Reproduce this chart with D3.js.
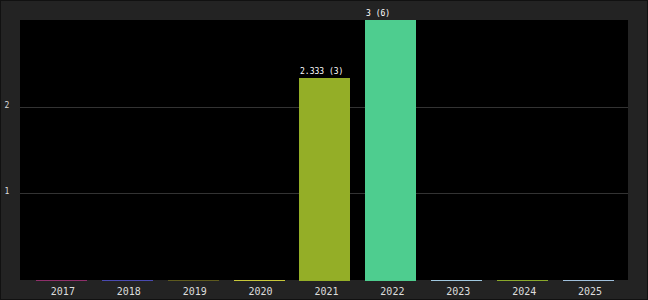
<!DOCTYPE html>
<html>
<head>
<meta charset="utf-8">
<script src="https://cdn.jsdelivr.net/npm/d3@7"></script>
<style>
  html, body { margin: 0; padding: 0; background: #222; }
  svg { display: block; }
</style>
</head>
<body>
<svg id="chart" width="648" height="300"></svg>
<script>
const years = ["2017", "2018", "2019", "2020", "2021", "2022", "2023", "2024", "2025"];
const values = [0, 0, 0, 0, 2.333, 3, 0, 0, 0];
const counts = [0, 0, 0, 0, 3, 6, 0, 0, 0];
const barColors = ["#8f2f6a", "#4a4ab0", "#5e5a1e", "#c8c83a", "#94ae27", "#4ecd8f", "#a0c8e0", "#8aa82a", "#a0c0dc"];
const yTicks = [1, 2];

const svg = d3.select("#chart");
const W = 648, H = 300;
const margin = { top: 20, right: 20, bottom: 20, left: 20 };

// background + outer frame
svg.append("rect").attr("x", 0.5).attr("y", 0.5).attr("width", W - 1).attr("height", H - 1)
  .attr("fill", "#232323").attr("stroke", "#111");

svg.append("rect")
  .attr("x", margin.left).attr("y", margin.top)
  .attr("width", W - margin.left - margin.right)
  .attr("height", H - margin.top - margin.bottom)
  .attr("fill", "#000");

const x = d3.scaleBand().domain(years)
  .range([margin.left + 8.6, W - margin.right - 6.6])
  .paddingInner(0.225).paddingOuter(0.11);

const y = d3.scaleLinear().domain([0, 3]).range([H - margin.bottom, margin.top]);

// gridlines
svg.append("g").selectAll("line").data(yTicks).join("line")
  .attr("x1", margin.left).attr("x2", W - margin.right)
  .attr("y1", d => Math.round(y(d)) + 0.5).attr("y2", d => Math.round(y(d)) + 0.5)
  .attr("stroke", "#333");

// y labels
svg.append("g").selectAll("text").data(yTicks).join("text")
  .attr("x", 7).attr("y", d => y(d) + 1)
  .attr("text-anchor", "middle")
  .attr("font-family", "DejaVu Sans Mono, monospace").attr("font-size", 8)
  .attr("fill", "#ddd")
  .text(d => d);

// bars
const data = years.map((yr, i) => ({ yr, v: values[i], n: counts[i], c: barColors[i] }));
svg.append("g").selectAll("rect").data(data).join("rect")
  .attr("x", d => Math.round(x(d.yr)))
  .attr("width", Math.round(x.bandwidth()))
  .attr("y", d => Math.round(y(d.v)))
  .attr("height", d => Math.max(1, Math.round(y(0) - y(d.v)) + 1))
  .attr("fill", d => d.c);

// bar value labels
svg.append("g").selectAll("text").data(data.filter(d => d.v > 0)).join("text")
  .attr("x", d => Math.round(x(d.yr)) + 1)
  .attr("y", d => Math.round(y(d.v)) - 4)
  .attr("font-family", "DejaVu Sans Mono, monospace").attr("font-size", 8)
  .attr("fill", "#fff")
  .text(d => `${d.v} (${d.n})`);

// x axis labels
svg.append("g").selectAll("text").data(years).join("text")
  .attr("x", d => x(d) + x.bandwidth() / 2 + 1.5)
  .attr("y", 295)
  .attr("text-anchor", "middle")
  .attr("font-family", "DejaVu Sans Mono, monospace").attr("font-size", 10)
  .attr("fill", "#ddd")
  .text(d => d);
</script>
</body>
</html>
